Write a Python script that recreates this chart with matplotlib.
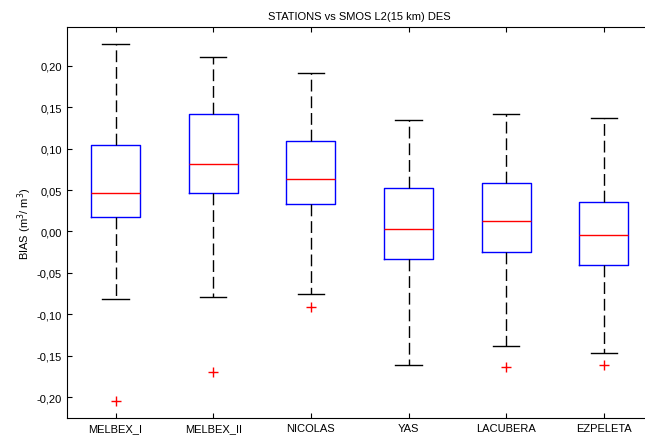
import matplotlib
matplotlib.use("Agg")
import matplotlib.pyplot as plt
from matplotlib.ticker import FuncFormatter

stations = ["MELBEX_I", "MELBEX_II", "NICOLAS", "YAS", "LACUBERA", "EZPELETA"]
whisk_hi = [0.226, 0.211, 0.191, 0.135, 0.142, 0.137]
q3 = [0.104, 0.142, 0.109, 0.052, 0.059, 0.036]
median = [0.046, 0.081, 0.063, 0.003, 0.013, -0.004]
q1 = [0.017, 0.046, 0.033, -0.033, -0.025, -0.040]
whisk_lo = [-0.082, -0.079, -0.075, -0.161, -0.138, -0.147]
outliers = [[-0.2045], [-0.169], [-0.091], [], [-0.164], [-0.161]]
yticks = [-0.20, -0.15, -0.10, -0.05, 0.0, 0.05, 0.10, 0.15, 0.20]

plt.rcParams['font.family'] = ['Liberation Sans', 'DejaVu Sans']

fig = plt.figure(figsize=(6.45, 4.39), dpi=100)
ax = fig.add_axes([0.1034, 0.0449, 0.9085, 0.8907])

stats = []
for i, name in enumerate(stations):
    stats.append(dict(label=name, med=median[i], q1=q1[i], q3=q3[i],
                      whislo=whisk_lo[i], whishi=whisk_hi[i], fliers=outliers[i]))

ax.bxp(stats, positions=range(1, len(stations) + 1), widths=0.5, showfliers=True,
       boxprops=dict(color='blue', linewidth=1.0),
       medianprops=dict(color='red', linewidth=1.0),
       whiskerprops=dict(color='black', linewidth=1.0, linestyle=(0, (8.5, 3.5))),
       capprops=dict(color='black', linewidth=1.0),
       capwidths=0.27,
       flierprops=dict(marker='+', markeredgecolor='red', markersize=7, linestyle='none'))

ax.set_xlim(0.5, 6.5)
ax.set_ylim(-0.2253, 0.2463)
ax.set_yticks(yticks)
ax.yaxis.set_major_formatter(FuncFormatter(lambda v, p: f"{v:.2f}".replace('.', ',')))
ax.tick_params(direction='in', top=True, right=True, labelsize=8, length=3.6, width=0.8)
ax.set_xticklabels(stations, fontsize=8)
for s in ax.spines.values():
    s.set_linewidth(0.8)
ax.set_ylabel("BIAS (m$^3$/ m$^3$)", fontsize=8, labelpad=2)
ax.set_title("STATIONS vs SMOS L2(15 km) DES", fontsize=8, pad=6)

fig.savefig("out.png", dpi=100)
